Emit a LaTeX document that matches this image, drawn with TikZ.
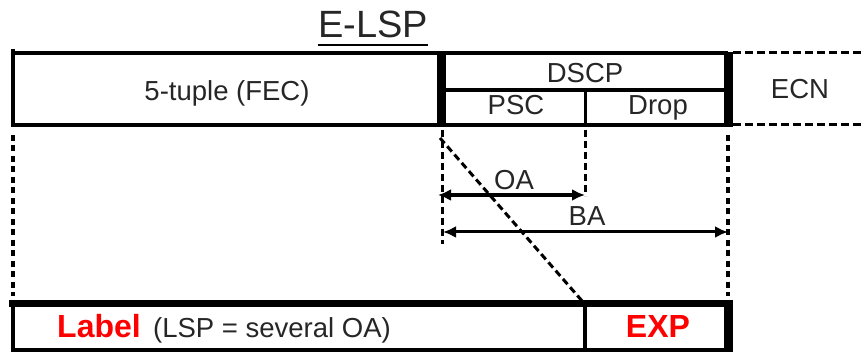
\documentclass[tikz,border=0pt]{standalone}
\usepackage{fontspec}
\setmainfont{Liberation Sans}
\usetikzlibrary{arrows.meta}

\definecolor{labelred}{RGB}{255,0,0}
\tikzset{
  txt/.style={inner sep=0pt, anchor=base, text=black!85, font=\fontsize{27.5}{30}\selectfont},
  redtxt/.style={inner sep=0pt, anchor=base, text=labelred, font=\fontsize{32}{34}\selectfont\bfseries},
  rule/.style={line width=3.5pt},
  bar/.style={line width=9pt},
  ecnline/.style={line width=3pt, dash pattern=on 8pt off 4pt},
  dotline/.style={line width=4pt, dash pattern=on 6pt off 4.5pt},
  dashline/.style={line width=3pt, dash pattern=on 7pt off 4pt},
  span/.style={{Latex[length=13pt,width=12pt]}-{Latex[length=13pt,width=12pt]}}
}

\begin{document}
\begin{tikzpicture}[x=1pt,y=-1pt]
    \useasboundingbox (0,0) rectangle (862,352);

    \coordinate (A) at (13,53);
    \coordinate (B) at (728,53);
    \coordinate (C) at (13,125);
    \coordinate (D) at (728,125);
    \coordinate (P) at (441,53);
    \coordinate (Q) at (441,125);
    \coordinate (M1) at (441,90);
    \coordinate (M2) at (728,90);
    \coordinate (S1) at (585,90);
    \coordinate (S2) at (585,125);

    \coordinate (L1) at (13,304);
    \coordinate (L2) at (13,350);
    \coordinate (R1) at (728,304);
    \coordinate (R2) at (728,350);
    \coordinate (E1) at (585,304);
    \coordinate (E2) at (585,350);

    % upper frame
    \draw[rule] (13,49) -- (C) -- (D);
    \draw[rule] (A) -- (B);
    \draw[rule] (M1) -- (M2);
    \draw[line width=3pt] (S1) -- (S2);
    \draw[bar] (441,52) -- (441,127);
    \draw[bar] (728,52) -- (728,127);
    \draw[ecnline] (733,53) -- (862,53);
    \draw[ecnline] (733,125) -- (862,125);

    % lower frame
    \draw[rule] (L1) -- (L2) -- (R2);
    \draw[line width=7pt] (9,304) -- (733,304);
    \draw[line width=4pt] (E1) -- (E2);
    \draw[bar] (728,300) -- (728,352);

    % guides
    \draw[dotline] (13,135) -- (13,296);
    \draw[dotline] (728,135) -- (728,296);
    \draw[dashline] (442,130) -- (442,244);
    \draw[dashline] (585,130) -- (585,196);
    \draw[dashline] (440,138) -- (583,302);

    \coordinate (oa1) at (438,195);
    \coordinate (oa2) at (585,195);
    \coordinate (ba1) at (443,232);
    \coordinate (ba2) at (728,232);
    \draw[span, line width=4pt] (oa1) -- (oa2);
    \draw[span, line width=3pt] (ba1) -- (ba2);

    % texts
    \node[txt, font=\fontsize{38}{40}\selectfont] (elsp) at (373,38) {E-LSP};
    \draw[line width=2pt] ([yshift=-7pt]elsp.base west) -- ([yshift=-7pt]elsp.base east);
    \node[txt] (fec) at (227,101) {5-tuple (FEC)};
    \node[txt] (dscp) at (585,83) {DSCP};
    \node[txt] (psc) at (516,115) {PSC};
    \node[txt] (drop) at (658,115) {Drop};
    \node[txt] (ecn) at (800,99) {ECN};
    \node[txt] (oa) at (514,190) {OA};
    \node[txt] (ba) at (587,226) {BA};
    \node[redtxt, anchor=base west] (lbl) at (57,338) {Label};
    \node[txt, anchor=base west] (lsp) at (153,338) {(LSP = several OA)};
    \node[redtxt] (exp) at (658,338) {EXP};
\end{tikzpicture}
\end{document}
